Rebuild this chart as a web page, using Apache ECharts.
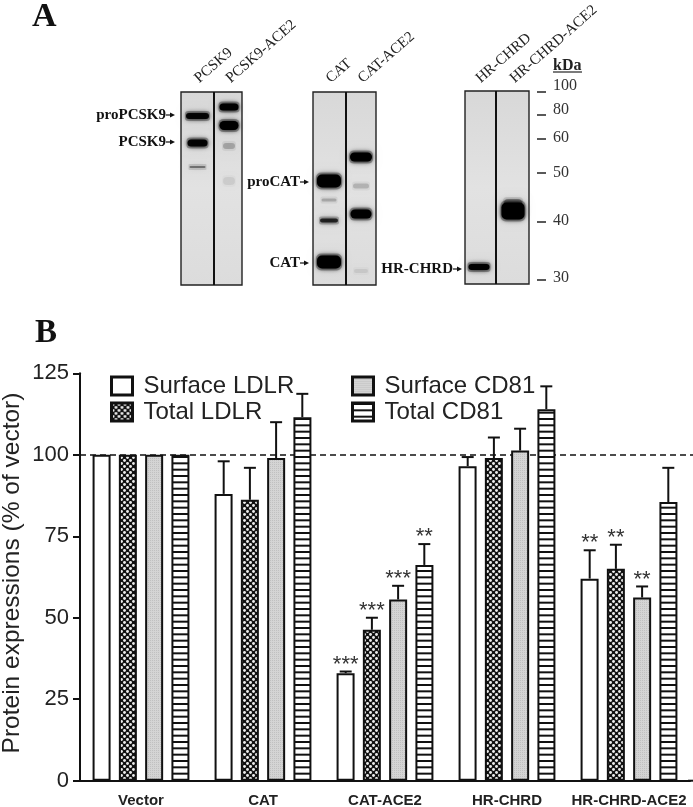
<!DOCTYPE html>
<html><head><meta charset="utf-8">
<style>html,body{margin:0;padding:0;background:#fff}#c{width:693px;height:807px}</style>
<script src="https://cdn.jsdelivr.net/npm/echarts@6/dist/echarts.min.js"></script>
</head><body><div id="c"></div>
<script>
// ---- panel B data ----
const categories = ['Vector','CAT','CAT-ACE2','HR-CHRD','HR-CHRD-ACE2'];
const seriesNames = ['Surface LDLR','Total LDLR','Surface CD81','Total CD81'];
const surfaceLDLR = [100,88,33,96.5,62];
const totalLDLR   = [100,86.2,46.3,99,65];
const surfaceCD81 = [100,99,55.6,101.3,56.2];
const totalCD81   = [100,111.5,66.2,114,85.5];
const surfaceLDLRTop = [null,98,33.5,99.3,70.7];
const totalLDLRTop   = [null,96,50,105.3,72.4];
const surfaceCD81Top = [null,110,59.8,108,59.6];
const totalCD81Top   = [null,118.7,72.6,121,96];
const surfaceLDLRStars = ['','','***','','**'];
const totalLDLRStars   = ['','','***','','**'];
const surfaceCD81Stars = ['','','***','','**'];
const totalCD81Stars   = ['','','**','','',];
const yTicks = [0,25,50,75,100,125];
// ---- panel A data (lane position, migration distance, band strength, band thickness, band breadth) ----
const laneNames  = ['PCSK9','PCSK9-ACE2','CAT','CAT-ACE2','HR-CHRD','HR-CHRD-ACE2'];
const lanePos    = [197.5,229,329,361,479,513];
const bandLane   = [0,0,0, 1,1,1,1, 2,2,2,2, 3,3,3,3, 4, 5,5];
const bandMig    = [116,143,167, 107,125.5,146,181, 181,200,220.5,262, 157,186,214,271, 267, 203,211];
const bandPower  = [.95,.95,.4, 1,1,.2,.07, 1,.2,.75,1, 1,.16,1,.07, 1, .35,1];
const bandThick  = [6,7,2, 7,9,6,8, 13,3,4,13, 9,5,9,4, 6, 8,17];
const bandBreadth= [25,22,18, 21,21,14,14, 26,17,20,26, 24,18,23,16, 23, 20,25];
const panelSpans = [[181,242],[313,376],[465,529]];
const panelDivs  = [214,346,496];
const panelEnds  = [[92,285],[92,285],[91,284]];
const kdaLabels  = ['100','80','60','50','40','30'];
const kdaMig     = [92,115,139,173,222,280];
const kdaTextMig = [86,110,138,173,221,278];
const arrowNames = ['proPCSK9','PCSK9','proCAT','CAT','HR-CHRD'];
const arrowTips  = [175,175,309,309,462];
const arrowMig   = [115,142,182,263,269];

const C = {ink:'#111', text:'#222'};
function pat(size, draw){const c=document.createElement('canvas');c.width=c.height=size;const x=c.getContext('2d');draw(x);return {image:c,repeat:'repeat'};}
const checker = pat(6,x=>{x.fillStyle='#111';x.fillRect(0,0,6,6);x.fillStyle='#eee';
  [[1.5,1.5],[4.5,4.5]].forEach(p=>{x.beginPath();x.arc(p[0],p[1],1.45,0,7);x.fill();});});
const stripes = pat(19,x=>{x.fillStyle='#fff';x.fillRect(0,0,19,19);x.fillStyle='#111';[0,6.33,12.67].forEach(y=>x.fillRect(0,y,19,2));});
const speckle = pat(2,x=>{x.fillStyle='#d4d4d4';x.fillRect(0,0,2,2);x.fillStyle='#c0c0c0';x.fillRect(0,0,1,1);});
const fills = ['#fff',checker,speckle,stripes];
const vals = [surfaceLDLR,totalLDLR,surfaceCD81,totalCD81];
const tops = [surfaceLDLRTop,totalLDLRTop,surfaceCD81Top,totalCD81Top];
const stars = [surfaceLDLRStars,totalLDLRStars,surfaceCD81Stars,totalCD81Stars];

const barSeries = seriesNames.map((n,i)=>({
  name:n,type:'bar',xAxisIndex:0,yAxisIndex:0,data:vals[i],barWidth:18,barGap:'46%',
  itemStyle:{color:fills[i],borderColor:C.ink,borderWidth:2},
  silent:true,z:3,
  markLine:i===0?{silent:true,symbol:'none',label:{show:false},animation:false,z:2,
    lineStyle:{color:C.ink,type:[6,4],width:1.6},
    data:[[{x:80,yAxis:100},{x:693,yAxis:100}]]}:undefined
}));
const errRows=[];
tops.forEach((t,s)=>t.forEach((v,c)=>{ if(v!=null) errRows.push([c,vals[s][c],v,s,stars[s][c]]); }));
const errSeries = {
  type:'custom',xAxisIndex:0,yAxisIndex:0,z:2,silent:true,data:errRows,
  encode:{x:0,y:[1,2]},
  renderItem(p,api){
    const band=api.size([1,0])[0];
    const off=(api.value(3)-1.5)*band*0.2148;
    const a=api.coord([api.value(0),api.value(1)]);
    const b=api.coord([api.value(0),api.value(2)]);
    const x=a[0]+off, st={stroke:C.ink,lineWidth:2};
    const kids=[
      {type:'line',shape:{x1:x,y1:a[1],x2:x,y2:b[1]},style:st},
      {type:'line',shape:{x1:x-6,y1:b[1],x2:x+6,y2:b[1]},style:st}
    ];
    const s=errRows[p.dataIndex][4];
    if(s) kids.push({type:'text',style:{text:s,x:x,y:b[1]+4,align:'center',verticalAlign:'bottom',
      font:'22px "Liberation Sans"',fill:'#333'}});
    return {type:'group',children:kids};
  }
};
// ---- blot ----
const blotX={gridIndex:1,type:'value',min:0,max:693,show:false};
const blotY={gridIndex:1,type:'value',min:0,max:300,inverse:true,show:false};
const panelSeries={
  type:'custom',xAxisIndex:1,yAxisIndex:1,silent:true,z:1,clip:false,
  data:panelSpans.map((s,i)=>[s[0],s[1],panelEnds[i][0],panelEnds[i][1],panelDivs[i]]),
  encode:{x:[0,1],y:[2,3]},
  renderItem(p,api){
    const a=api.coord([api.value(0),api.value(2)]),b=api.coord([api.value(1),api.value(3)]);
    return {type:'rect',shape:{x:a[0],y:a[1],width:b[0]-a[0],height:b[1]-a[1]},
        style:{fill:{type:'linear',x:0,y:0,x2:0,y2:1,colorStops:[{offset:0,color:'#d8d8d8'},{offset:.5,color:'#e2e2e2'},{offset:1,color:'#dcdcdc'}]}}};
  }
};
const bandSeries={
  type:'custom',xAxisIndex:1,yAxisIndex:1,silent:true,z:2,
  data:bandLane.map((l,i)=>[lanePos[l],bandMig[i],bandPower[i],bandThick[i],bandBreadth[i]]),
  encode:{x:0,y:1},
  renderItem(p,api){
    const c=api.coord([api.value(0),api.value(1)]);
    const pw=api.value(2),th=api.value(3),w=api.value(4);
    const col='rgba(0,0,0,'+pw+')', halo='rgba(0,0,0,'+(pw*.28)+')';
    const r=Math.min(th/2,5);
    return {type:'group',children:[
      {type:'rect',shape:{x:c[0]-w/2,y:c[1]-th/2-2,width:w,height:th+4,r:r},
       style:{fill:halo,shadowBlur:9,shadowColor:halo}},
      {type:'rect',shape:{x:c[0]-w/2+1,y:c[1]-th/2,width:w-2,height:th,r:r},
       style:{fill:col,shadowBlur:5,shadowColor:col}}
    ]};
  }
};
const frameSeries={
  type:'custom',xAxisIndex:1,yAxisIndex:1,silent:true,z:3,
  data:panelSpans.map((s,i)=>[s[0],s[1],panelEnds[i][0],panelEnds[i][1],panelDivs[i]]),
  encode:{x:[0,1],y:[2,3]},
  renderItem(p,api){
    const a=api.coord([api.value(0),api.value(2)]),b=api.coord([api.value(1),api.value(3)]);
    const d=api.coord([api.value(4),0])[0];
    return {type:'group',children:[
      {type:'rect',shape:{x:a[0],y:a[1],width:b[0]-a[0],height:b[1]-a[1]},style:{fill:null,stroke:'#222',lineWidth:1.4}},
      {type:'line',shape:{x1:d,y1:a[1],x2:d,y2:b[1]},style:{stroke:'#111',lineWidth:2}}
    ]};
  }
};
const laneLabelSeries={
  type:'custom',xAxisIndex:1,yAxisIndex:1,silent:true,z:4,
  data:laneNames.map((n,i)=>[lanePos[i],86,n]),
  encode:{x:0,y:1},
  renderItem(p,api){
    const c=api.coord([api.value(0),api.value(1)]);
    return {type:'text',x:c[0]+4,y:c[1],rotation:Math.PI*41/180,
      style:{text:laneNames[p.dataIndex],x:0,y:0,align:'left',verticalAlign:'bottom',font:'15px "Liberation Serif"',fill:'#222'}};
  }
};
const kdaSeries={
  type:'custom',xAxisIndex:1,yAxisIndex:1,silent:true,z:4,
  data:kdaLabels.map((n,i)=>[537,kdaMig[i],kdaTextMig[i]]),
  encode:{x:0,y:1},
  renderItem(p,api){
    const c=api.coord([api.value(0),api.value(1)]),t=api.coord([api.value(0),api.value(2)]);
    return {type:'group',children:[
      {type:'line',shape:{x1:c[0],y1:c[1],x2:c[0]+9,y2:c[1]},style:{stroke:'#222',lineWidth:1.5}},
      {type:'text',style:{text:kdaLabels[p.dataIndex],x:c[0]+16,y:t[1],align:'left',verticalAlign:'middle',font:'16px "Liberation Serif"',fill:'#333'}}
    ]};
  }
};
const arrowSeries={
  type:'custom',xAxisIndex:1,yAxisIndex:1,silent:true,z:4,
  data:arrowNames.map((n,i)=>[arrowTips[i],arrowMig[i]]),
  encode:{x:0,y:1},
  renderItem(p,api){
    const c=api.coord([api.value(0),api.value(1)]);
    return {type:'group',children:[
      {type:'text',style:{text:arrowNames[p.dataIndex],x:c[0]-9,y:c[1],align:'right',verticalAlign:'middle',font:'bold 15px "Liberation Serif"',fill:'#111'}},
      {type:'line',shape:{x1:c[0]-9,y1:c[1],x2:c[0]-3,y2:c[1]},style:{stroke:'#111',lineWidth:1.2}},
      {type:'polygon',shape:{points:[[c[0],c[1]],[c[0]-5,c[1]-2.5],[c[0]-5,c[1]+2.5]]},style:{fill:'#111'}}
    ]};
  }
};
const chart=echarts.init(document.getElementById('c'),null,{renderer:'canvas',width:693,height:807});
const legendBase={orient:'vertical',top:374,itemWidth:21,itemHeight:18,itemGap:2,padding:0,selectedMode:false,icon:'rect',
  itemStyle:{borderWidth:3,borderColor:'#111'},
  textStyle:{fontFamily:'Liberation Sans',fontSize:24,color:'#222',padding:[0,0,0,6]}};
chart.setOption({
  animation:false,backgroundColor:'#fff',
  grid:[
    {left:80,right:3,top:373.3,height:407.4,outerBoundsMode:'none'},
    {left:0,top:0,width:693,height:300,outerBoundsMode:'none'}
  ],
  xAxis:[
    {gridIndex:0,type:'category',data:categories,
     axisLine:{lineStyle:{color:C.ink,width:2}},
     axisTick:{alignWithLabel:true,length:5,lineStyle:{color:C.ink,width:2}},
     axisLabel:{fontFamily:'Liberation Sans',fontWeight:'bold',fontSize:15,color:'#222',margin:13,interval:0}},
    blotX
  ],
  yAxis:[
    {gridIndex:0,type:'value',min:0,max:125,interval:25,
     name:'Protein expressions (% of vector)',nameLocation:'middle',nameGap:55,nameMoveOverlap:false,
     nameTextStyle:{fontFamily:'Liberation Sans',fontSize:24.5,color:'#222',padding:[0,0,0,8]},
     axisLine:{show:true,onZero:false,lineStyle:{color:C.ink,width:2}},
     axisTick:{show:true,length:7,lineStyle:{color:C.ink,width:2}},
     splitLine:{show:false},
     axisLabel:{fontFamily:'Liberation Sans',fontSize:22,color:'#222',margin:11,
       formatter:v=>yTicks.includes(v)?String(v):''}},
    blotY
  ],
  legend:[
    Object.assign({data:seriesNames.slice(0,2),left:110},legendBase),
    Object.assign({data:seriesNames.slice(2,4),left:351},legendBase)
  ],
  title:[
    {text:'A',left:32,top:0,padding:0,textStyle:{fontFamily:'Liberation Serif',fontWeight:'bold',fontSize:34,color:'#111'}},
    {text:'B',left:35,top:317,padding:0,textStyle:{fontFamily:'Liberation Serif',fontWeight:'bold',fontSize:33,color:'#111'}},
    {text:'kDa',left:553,top:58,padding:0,textStyle:{fontFamily:'Liberation Serif',fontWeight:'bold',fontSize:16,color:'#222'}}
  ],
  graphic:[
    {type:'line',shape:{x1:553,y1:72,x2:582,y2:72},style:{stroke:'#222',lineWidth:1.2}},
    {type:'line',z:5,shape:{x1:688,y1:780.7,x2:693,y2:780.7},style:{stroke:'#111',lineWidth:2}}
  ],
  series:[...barSeries,errSeries,panelSeries,bandSeries,frameSeries,laneLabelSeries,kdaSeries,arrowSeries]
});
</script></body></html>
